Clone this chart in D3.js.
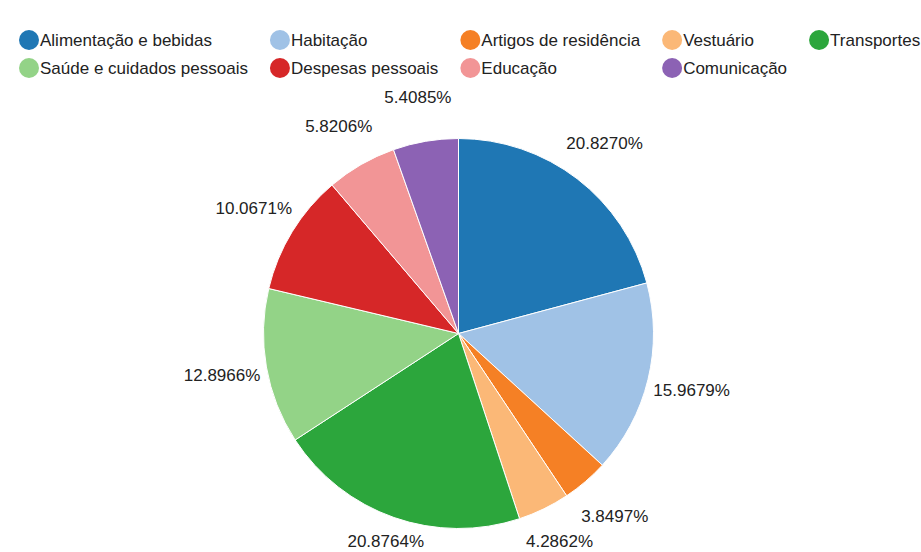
<!DOCTYPE html>
<html lang="pt">
<head>
    <meta charset="UTF-8">
    <title>Pie chart</title>
    <script src="https://d3js.org/d3.v7.min.js"></script>
    <style>
        body { margin: 0; background: #fff; }
        text { font-family: "Liberation Sans", Arial, sans-serif; fill: #222; }
    </style>
</head>
<body>
    <div id="chart"></div>

    <script>
        // Categories and their shares (%)
        var categories = [
            "Alimentação e bebidas", "Habitação", "Artigos de residência",
            "Vestuário", "Transportes", "Saúde e cuidados pessoais",
            "Despesas pessoais", "Educação", "Comunicação"
        ];
        var values = [20.8270, 15.9679, 3.8497, 4.2862, 20.8764, 12.8966, 10.0671, 5.8206, 5.4085];
        var colors = ["#1f77b4", "#a0c2e6", "#f58025", "#fbb877", "#2ca63c",
                      "#93d387", "#d62728", "#f29596", "#8c62b4"];

        var width = 921, height = 552;
        var cx = 458.5, cy = 333.5, radius = 195;

        var svg = d3.select("#chart")
            .append("svg")
            .attr("width", width)
            .attr("height", height);

        // Legend: two rows, columns sized by the widest text in each column
        var perRow = 5;
        var legend = svg.append("g");
        var items = legend.selectAll("g")
            .data(categories)
            .enter()
            .append("g");
        items.append("circle")
            .attr("r", 10)
            .attr("fill", function(d, i) { return colors[i]; });
        items.append("text")
            .attr("x", 11)
            .attr("dy", "0.35em")
            .style("font-size", "17px")
            .text(function(d) { return d; });

        var colWidth = [];
        items.each(function(d, i) {
            var w = d3.select(this).select("text").node().getComputedTextLength();
            var c = i % perRow;
            colWidth[c] = Math.max(colWidth[c] || 0, w);
        });
        var colX = [29];
        for (var c = 1; c < perRow; c++) {
            colX[c] = colX[c - 1] + 11 + colWidth[c - 1] + 32;
        }
        items.attr("transform", function(d, i) {
            return "translate(" + colX[i % perRow] + "," + (40 + Math.floor(i / perRow) * 28) + ")";
        });

        // Pie
        var pie = d3.pie().sort(null).value(function(d) { return d; });
        var arcs = pie(values);
        var arc = d3.arc().innerRadius(0).outerRadius(radius);

        var g = svg.append("g").attr("transform", "translate(" + cx + "," + cy + ")");

        g.selectAll("path")
            .data(arcs)
            .enter()
            .append("path")
            .attr("d", arc)
            .attr("fill", function(d, i) { return colors[i]; })
            .attr("stroke", "#fff")
            .attr("stroke-width", 1);

        // Percentage labels outside the slices
        var labelR = 240;
        var maxY = height - 11 - cy;
        g.selectAll(".label")
            .data(arcs)
            .enter()
            .append("text")
            .attr("class", "label")
            .attr("text-anchor", "middle")
            .attr("dy", "0.35em")
            .style("font-size", "17px")
            .attr("x", function(d) {
                var a = (d.startAngle + d.endAngle) / 2;
                var y = -labelR * Math.cos(a);
                // slide along the ray when the label would fall off the bottom
                var r = y > maxY ? maxY / -Math.cos(a) : labelR;
                return r * Math.sin(a);
            })
            .attr("y", function(d) {
                var a = (d.startAngle + d.endAngle) / 2;
                return Math.min(-labelR * Math.cos(a), maxY);
            })
            .text(function(d) { return d.value.toFixed(4) + "%"; });
    </script>
</body>
</html>
